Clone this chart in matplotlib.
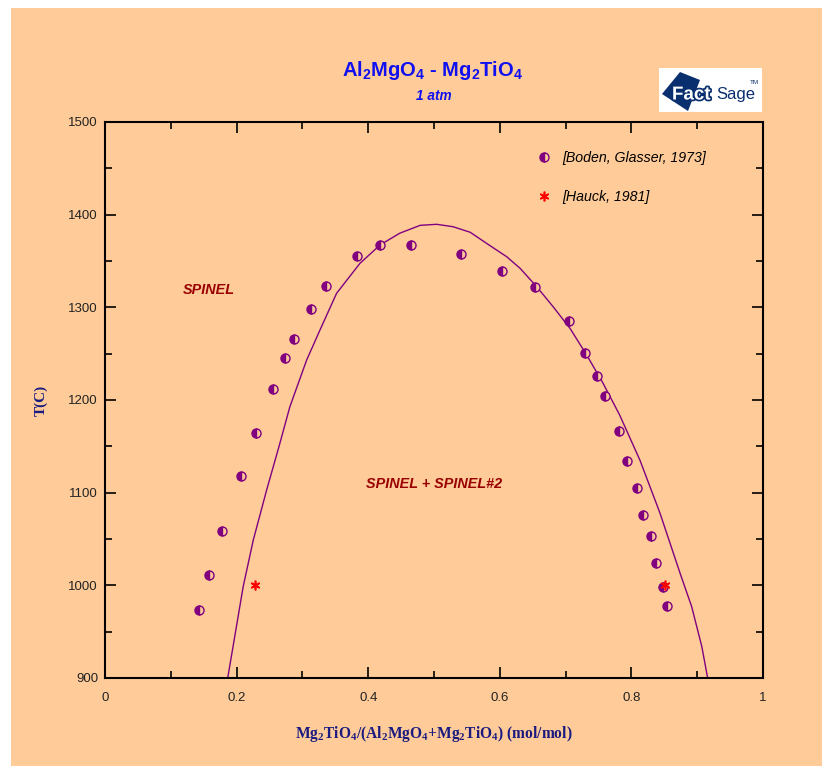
import numpy as np
import matplotlib
matplotlib.use('Agg')
import matplotlib.pyplot as plt
import matplotlib.patheffects as pe
from matplotlib.patches import Rectangle, Polygon

plt.rcParams['font.family'] = ['Liberation Sans', 'DejaVu Sans']
plt.rcParams['mathtext.fontset'] = 'custom'
plt.rcParams['mathtext.rm'] = 'Liberation Sans:bold'
plt.rcParams['mathtext.bf'] = 'Liberation Serif:bold'
plt.rcParams['mathtext.it'] = 'Liberation Sans:italic'

# calculated miscibility gap (SPINEL / SPINEL#2)
curve_x = [0.1865, 0.210, 0.2254, 0.2457, 0.2645, 0.281, 0.3065, 0.3267, 0.352,
           0.3875, 0.418, 0.448, 0.479, 0.504, 0.529, 0.555, 0.580, 0.6105, 0.631,
           0.656, 0.681, 0.707, 0.732, 0.757, 0.782, 0.813, 0.8435, 0.874, 0.8916,
           0.907, 0.9155]
curve_T = [900, 998.6, 1049, 1103, 1150, 1192.8, 1243.2, 1275.5, 1315.2,
           1347.5, 1367.3, 1380, 1388.5, 1389.6, 1387, 1381, 1369, 1354.6, 1342,
           1322.3, 1300.7, 1277, 1248.6, 1218, 1184, 1135, 1077.8, 1013, 977,
           934, 901.4]

# Boden, Glasser 1973
boden_x = [0.143, 0.158, 0.178, 0.207, 0.229, 0.255, 0.274, 0.287, 0.313, 0.336,
           0.383, 0.418, 0.465, 0.541, 0.603, 0.653, 0.705, 0.729, 0.748, 0.760,
           0.781, 0.793, 0.808, 0.818, 0.830, 0.837, 0.848, 0.854]
boden_T = [973, 1011, 1059, 1118, 1164, 1212, 1245, 1266, 1298, 1323,
           1355, 1367, 1367, 1358, 1339, 1322, 1285, 1251, 1226, 1204,
           1167, 1134, 1105, 1076, 1053, 1024, 998, 978]

# Hauck 1981
hauck_x = [0.228, 0.851]
hauck_T = [1000, 1000]

peach = '#FFCC99'
purple = '#800080'
navy = '#1A1A80'

fig = plt.figure(figsize=(8.27, 7.72), dpi=100)
fig.patch.set_facecolor('white')
fig.patches.append(Rectangle((11/827, 1-766/772), 811/827, 758/772,
                             transform=fig.transFigure, facecolor=peach,
                             edgecolor='none', zorder=-10))

ax = fig.add_axes([105/827, 1-678/772, 658/827, 556/772])
ax.set_facecolor(peach)

ax.plot(curve_x, curve_T, color=purple, lw=1.0)
ax.plot(boden_x, boden_T, ls='none', marker='o', ms=6.5, color=purple,
        fillstyle='left', markerfacecoloralt=peach, mew=1.0,
        label='[Boden, Glasser, 1973]')
ax.plot(hauck_x, hauck_T, ls='none', marker=(6, 2, 0), ms=7, color='red',
        mew=1.2, label='[Hauck, 1981]')

ax.set_xlim(0, 1)
ax.set_ylim(900, 1500)
ax.set_xticks([0, 0.2, 0.4, 0.6, 0.8, 1])
ax.set_xticklabels(['0', '0.2', '0.4', '0.6', '0.8', '1'])
ax.set_xticks(np.arange(0.1, 1, 0.2), minor=True)
ax.set_yticks([900, 1000, 1100, 1200, 1300, 1400, 1500])
ax.set_yticks(np.arange(950, 1500, 100), minor=True)
ax.tick_params(which='both', direction='in', top=True, right=True,
               labelsize=9.5, labelcolor='#222222', width=1.2)
ax.tick_params(axis='x', which='both', pad=10)
ax.tick_params(axis='y', which='both', pad=5)
ax.tick_params(which='major', length=8)
ax.tick_params(which='minor', length=5)
for s in ax.spines.values():
    s.set_linewidth(1.5)

ax.set_xlabel(r'Mg$_\mathbf{2}$TiO$_\mathbf{4}$/(Al$_\mathbf{2}$MgO$_\mathbf{4}$'
              r'+Mg$_\mathbf{2}$TiO$_\mathbf{4}$) (mol/mol)',
              family='Liberation Serif', fontweight='bold', fontsize=11.2,
              color=navy)
ax.xaxis.set_label_coords(0.5, -0.083)
ax.set_ylabel('T(C)', family='Liberation Serif', fontweight='bold',
              fontsize=11, color=navy)
ax.yaxis.set_label_coords(-0.087, 0.5)

ax.text(0.158, 1319, 'SPINEL', color='#990000', fontsize=10.4,
        fontweight='bold', style='italic', ha='center', va='center')
ax.text(0.5, 1109, 'SPINEL + SPINEL#2', color='#990000', fontsize=10.4,
        fontweight='bold', style='italic', ha='center', va='center')

leg = ax.legend(loc='upper left', bbox_to_anchor=(0.637, 0.97), frameon=False,
                prop={'style': 'italic', 'size': 10.2}, labelspacing=1.75,
                handlelength=1.0, handletextpad=0.8, numpoints=1)

# title
fig.text(433/827, 1-70/772, r'Al$_\mathrm{2}$MgO$_\mathrm{4}$ - Mg$_\mathrm{2}$TiO$_\mathrm{4}$',
         color='#1010F0', fontsize=14.5, fontweight='bold', ha='center', va='center')
fig.text(434/827, 1-96/772, '1 atm', color='#1010F0', fontsize=9.8,
         fontweight='bold', style='italic', ha='center', va='center')

# FactSage logo
fig.patches.append(Rectangle((659/827, 1-112/772), 103/827, 44/772,
                             transform=fig.transFigure, facecolor='white',
                             edgecolor='none', zorder=1))
fig.patches.append(Polygon([(662/827, 1-94/772), (680/827, 1-72/772),
                            (700/827, 1-80/772), (688/827, 1-111/772)],
                           closed=True, transform=fig.transFigure,
                           facecolor='#0A2F6E', edgecolor='none', zorder=2))
fig.text(672/827, 1-95/772, 'Fact', color='white', fontsize=13.5, fontweight='bold',
         ha='left', va='center', zorder=3,
         path_effects=[pe.withStroke(linewidth=2.5, foreground='#0A2F6E')])
fig.text(716/827, 1-95/772, 'Sage', color='#0A2F6E', fontsize=12,
         ha='left', va='center', zorder=3)
fig.text(750/827, 1-82/772, 'TM', color='#0A2F6E', fontsize=4.5,
         ha='left', va='center', zorder=3)

fig.savefig('out.png', dpi=100, facecolor=fig.get_facecolor())
